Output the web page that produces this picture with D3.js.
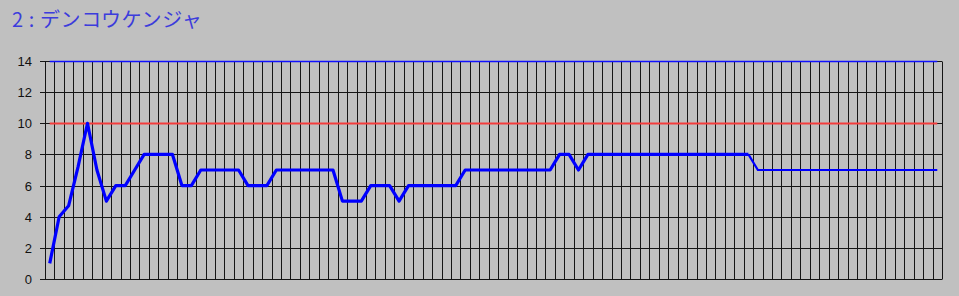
<!DOCTYPE html>
<html lang="ja">
<head>
<meta charset="UTF-8" />
<title>2 : デンコウケンジャ</title>
<script src="https://d3js.org/d3.v7.min.js"></script>
<style>
  body { margin: 0; background: #c0c0c0; }
  svg { display: block; }
  .title { font: 20px "Noto Sans CJK JP", sans-serif; fill: #3c3cdc; letter-spacing: 0.6px; white-space: pre; }
  .tick text { font: 13px "Liberation Sans", Arial, sans-serif; fill: #111; }
</style>
</head>
<body>
<svg width="959" height="296"></svg>
<script>
// chart data
var title = "2 : デンコウケンジャ";
var yTicks = [0, 2, 4, 6, 8, 10, 12, 14];
var values = [
  1, 4, 4.7, 7.2, 10, 7, 5, 6, 6, 7,
  8, 8, 8, 8, 6, 6, 7, 7, 7, 7,
  7, 6, 6, 6, 7, 7, 7, 7, 7, 7,
  7, 5, 5, 5, 6, 6, 6, 5, 6, 6,
  6, 6, 6, 6, 7, 7, 7, 7, 7, 7,
  7, 7, 7, 7, 8, 8, 7, 8, 8, 8,
  8, 8, 8, 8, 8, 8, 8, 8, 8, 8,
  8, 8, 8, 8, 8, 7, 7, 7, 7, 7,
  7, 7, 7, 7, 7, 7, 7, 7, 7, 7,
  7, 7, 7, 7, 7
];
var refLines = [
  { value: 10, color: "#f43c3c", width: 2 },   // upper limit
  { value: 14, color: "#1010ff", width: 1.6 }  // top line
];
var thickUntil = 74;   // line is drawn heavier up to this point

var svg = d3.select("svg");
var plotLeft = 45, plotRight = 942, plotTop = 61, plotBottom = 279;

var x = d3.scaleBand()
  .domain(d3.range(values.length))
  .range([plotLeft, plotRight]);
var y = d3.scaleLinear().domain([0, 14]).range([plotBottom, plotTop]);
var yr = function (v) { return Math.round(y(v)) + 0.5; };
var cx = function (i) { return x(i) + x.bandwidth() / 2; };

svg.append("text")
  .attr("class", "title")
  .attr("x", 12)
  .attr("y", 27)
  .text(title);

// horizontal grid + y labels
var gy = svg.append("g")
  .attr("transform", "translate(" + plotLeft + ",0)")
  .call(d3.axisLeft(y)
    .tickValues(yTicks)
    .tickSize(-(plotRight - plotLeft))
    .tickPadding(13)
    .offset(0));
gy.select(".domain").remove();
gy.selectAll(".tick")
  .attr("transform", function (d) { return "translate(0," + yr(d) + ")"; });
gy.selectAll(".tick line")
  .attr("x1", -5)
  .attr("stroke", "#151515");

// vertical grid at band edges
var edges = d3.range(values.length + 1).map(function (i) {
  return i < values.length ? x(i) : plotRight;
});
svg.append("g")
  .selectAll("line")
  .data(edges)
  .enter()
  .append("line")
  .attr("x1", function (d) { return Math.round(d) + 0.5; })
  .attr("x2", function (d) { return Math.round(d) + 0.5; })
  .attr("y1", yr(14))
  .attr("y2", yr(0))
  .attr("stroke", "#151515");

// constant reference lines, first point to last point
svg.append("g")
  .selectAll("line")
  .data(refLines)
  .enter()
  .append("line")
  .attr("x1", cx(0))
  .attr("x2", cx(values.length - 1))
  .attr("y1", function (d) { return yr(d.value); })
  .attr("y2", function (d) { return yr(d.value); })
  .attr("stroke", function (d) { return d.color; })
  .attr("stroke-width", function (d) { return d.width; });

// data series
var line = d3.line()
  .x(function (d) { return cx(d.i); })
  .y(function (d) { return y(d.v); });
var pts = values.map(function (v, i) { return { i: i, v: v }; });

svg.append("path")
  .attr("d", line(pts.slice(0, thickUntil + 1)))
  .attr("fill", "none")
  .attr("stroke", "#0000ff")
  .attr("stroke-width", 3.2)
  .attr("stroke-linejoin", "round");
svg.append("path")
  .attr("d", line(pts.slice(thickUntil)))
  .attr("fill", "none")
  .attr("stroke", "#0000ff")
  .attr("stroke-width", 2.2)
  .attr("stroke-linejoin", "round");
</script>
</body>
</html>
